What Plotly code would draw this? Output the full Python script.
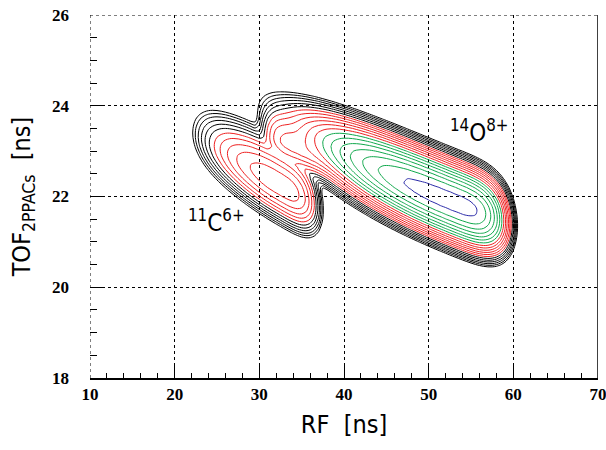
import numpy as np
import plotly.graph_objects as go

# ---- axes / ticks -------------------------------------------------------
x_range = [10, 70]
y_range = [18, 26]
x_ticks = [10, 20, 30, 40, 50, 60, 70]
y_ticks = [18, 20, 22, 24, 26]

# ---- histogram binning (RF, TOF) ---------------------------------------
bin_x = np.arange(10.0, 70.0001, 0.5)
bin_y = np.arange(18.0, 26.0001, 0.1)

# ---- peak descriptions (log-count level units) ----
peak_names   = ["11C6+", "bridge", "14O8+"]
peak_x       = [31.8, 35.0, 52.5]     # RF at the maximum
peak_y       = [22.33, 23.05, 21.91]  # TOF at the maximum
peak_level   = [10.7, 9.5, 18.5]      # height in contour-level units
ridge_slope  = [-0.11, -0.075, -0.075]
ridge_curv   = [0.0, 0.0, 0.0007]
len_left     = [3.47, 3.0, 7.22]
pow_left     = [2.0, 4.0, 2.57]
edge_left    = [8.1, 1e9, 1e9]        # steep fall-off at the outer edge
len_right    = [3.19, 3.0, 3.86]
pow_right    = [4.0, 2.0, 4.0]
width_up     = [0.32, 0.30, 0.279]
width_down   = [0.28, 0.20, 0.279]

# contour levels and their colours
level_groups = [
    (0, 5, "black"),
    (6, 11, "#ee2020"),
    (12, 17, "#10a84c"),
    (18, 18, "#2a2aa8"),
]
merge_k = 0.7

X, Y = np.meshgrid(bin_x, bin_y)
terms = []
for i in range(len(peak_names)):
    u = X - peak_x[i]
    v = Y - (peak_y[i] + ridge_slope[i] * u + ridge_curv[i] * u ** 2)
    left = (np.abs(u) / len_left[i]) ** pow_left[i] + (np.abs(u) / edge_left[i]) ** 6
    right = (np.abs(u) / len_right[i]) ** pow_right[i]
    along = np.where(u < 0, left, right)
    across = np.where(v > 0, (v / width_up[i]) ** 2, (v / width_down[i]) ** 2)
    terms.append(merge_k * (peak_level[i] - along - across))
terms = np.array(terms)
m = terms.max(axis=0)
Z = (m + np.log(np.exp(terms - m).sum(axis=0))) / merge_k

fig = go.Figure()
for lo, hi, col in level_groups:
    fig.add_trace(go.Contour(
        x=bin_x, y=bin_y, z=Z, autocontour=False,
        contours=dict(start=lo, end=hi, size=1, coloring="none"),
        line=dict(color=col, width=1), showscale=False, hoverinfo="skip"))

tickfont = dict(family="Liberation Serif", size=17, color="black", weight="bold")
sans = "Liberation Sans Narrow, DejaVu Sans Condensed, Liberation Sans"
title_font = dict(family=sans, size=25, color="black")

fig.update_layout(
    width=606, height=450,
    margin=dict(l=90, r=8, t=15, b=72, autoexpand=False),
    plot_bgcolor="white", paper_bgcolor="white",
    showlegend=False,
    xaxis=dict(
        range=x_range, tickvals=x_ticks, ticks="inside", ticklen=12,
        tickcolor="black", tickwidth=1, tickfont=tickfont,
        ticklabeloverflow="allow", automargin=False,
        showgrid=True, gridcolor="black", griddash="dot", gridwidth=1,
        showline=True, linecolor="black", linewidth=1.5, mirror=False,
        zeroline=False,
        minor=dict(dtick=2, ticks="inside", ticklen=5, tickcolor="black",
                   showgrid=False),
        title=dict(text="RF  [ns]", font=title_font, standoff=12),
    ),
    yaxis=dict(
        range=y_range, tickvals=y_ticks, ticks="inside", ticklen=15,
        tickcolor="black", tickwidth=1, tickfont=tickfont,
        ticklabelstandoff=20, automargin=False,
        showgrid=True, gridcolor="black", griddash="dot", gridwidth=1,
        showline=False, zeroline=False,
        minor=dict(dtick=0.5, ticks="inside", ticklen=7, tickcolor="black",
                   showgrid=False),
        title=dict(text="TOF<sub>2PPACs</sub>  [ns]", font=title_font, standoff=14),
    ),
    shapes=[
        dict(type="line", xref="x", yref="y", x0=70, x1=70, y0=18, y1=26,
             line=dict(color="black", width=1.5)),
        dict(type="line", xref="x", yref="y", x0=10, x1=10, y0=18, y1=26,
             line=dict(color="black", width=1, dash="dot")),
        dict(type="line", xref="x", yref="y", x0=10, x1=70, y0=26, y1=26,
             line=dict(color="black", width=1, dash="dot")),
    ],
    annotations=[
        dict(x=24.9, y=21.45, xref="x", yref="y", showarrow=False,
             text="<sup>11</sup>C<sup>6+</sup>",
             font=dict(family=sans, size=24, color="black")),
        dict(x=55.9, y=23.45, xref="x", yref="y", showarrow=False,
             text="<sup>14</sup>O<sup>8+</sup>",
             font=dict(family=sans, size=24, color="black")),
    ],
)

fig.write_html("out.html")
